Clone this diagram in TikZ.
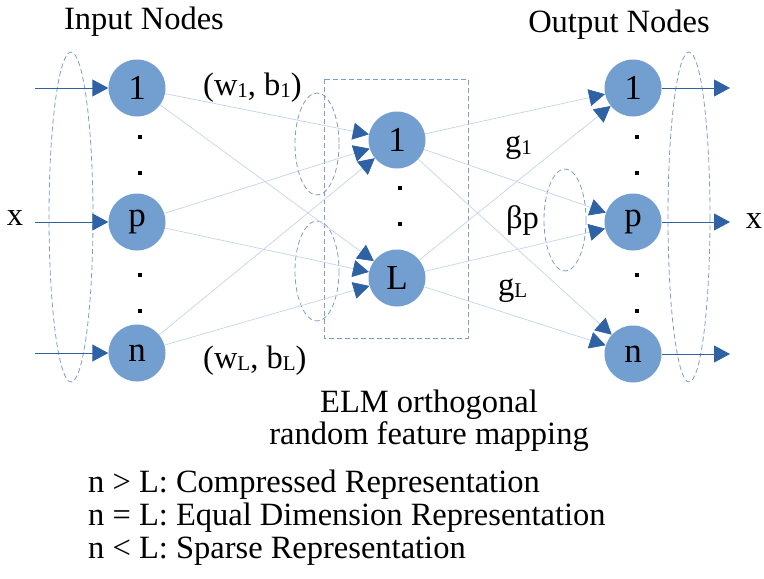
\documentclass[tikz,border=0pt]{standalone}
\usepackage{fontspec}
\setmainfont{Liberation Serif}
\usetikzlibrary{arrows.meta}
\definecolor{nodefill}{RGB}{114,159,207}
\definecolor{tipblue}{RGB}{46,98,165}
\definecolor{wireblue}{RGB}{196,212,236}
\definecolor{dashblue}{RGB}{126,156,204}
% small index set just below the baseline
\newcommand\idx[1]{\raisebox{-2.5pt}{\fontsize{21}{21}\selectfont #1}}

\begin{document}
\begin{tikzpicture}[x=1pt,y=-1pt,
  neuron/.style={circle,fill=nodefill,minimum size=57pt,inner sep=0pt,
    font=\fontsize{35}{35}\selectfont},
  dotsq/.style={fill=black,minimum size=4pt,inner sep=0pt},
  wire/.style={draw=wireblue,line width=0.7pt,
    -{Triangle[length=16pt,width=17pt,color=tipblue,fill=tipblue]}},
  ioarrow/.style={draw=tipblue,line width=1pt,-{Triangle[length=16pt,width=17pt]}},
  grouping/.style={draw=dashblue,dash pattern=on 5pt off 3pt,line width=0.8pt},
  lbl/.style={font=\fontsize{32.5}{33}\selectfont,inner sep=0pt}
]
\useasboundingbox (0,0) rectangle (764,579);

% dashed groupings
\draw[grouping] (71,217) ellipse [x radius=22, y radius=165];
\draw[grouping] (689,217) ellipse [x radius=21, y radius=165];
\draw[grouping] (317,144) ellipse [x radius=22, y radius=51];
\draw[grouping] (317,271) ellipse [x radius=22, y radius=50];
\draw[grouping] (565,220) ellipse [x radius=21, y radius=51];
\draw[grouping] (324,79) rectangle (468,338);

% neurons
\node[neuron] (in1) at (137,88) {1};
\node[neuron] (inp) at (137,222) {p};
\node[neuron] (inn) at (137,353) {n};
\node[neuron] (h1) at (397,140) {1};
\node[neuron] (hL) at (397,278) {L};
\node[neuron] (out1) at (633,88) {1};
\node[neuron] (outp) at (633,222) {p};
\node[neuron] (outn) at (633,354) {n};

% ellipsis dots
\foreach \x/\y [count=\i] in {140/137,140/173,140/275,140/311,400/188,400/224,
    637/137,637/173,637/275,637/311}
  \node[dotsq] (d\i) at (\x,\y) {};

% input and output arrows
\coordinate (a1) at (35,88);
\coordinate (ap) at (35,222);
\coordinate (an) at (35,353);
\coordinate (b1) at (730,88);
\coordinate (bp) at (730,222);
\coordinate (bn) at (730,354);
\draw[ioarrow] (a1) -- (in1);
\draw[ioarrow] (ap) -- (inp);
\draw[ioarrow] (an) -- (inn);
\draw[ioarrow] (out1) -- (b1);
\draw[ioarrow] (outp) -- (bp);
\draw[ioarrow] (outn) -- (bn);

% random feature mapping
\foreach \s in {in1,inp,inn}
  \foreach \t in {h1,hL}
    \draw[wire] (\s) -- (\t);
\foreach \s in {h1,hL}
  \foreach \t in {out1,outp,outn}
    \draw[wire] (\s) -- (\t);

% labels
\node[lbl,anchor=base] (tin) at (144,29) {Input Nodes};
\node[lbl,anchor=base] (tout) at (619,32) {Output Nodes};
\node[lbl,anchor=base west] (w1) at (203,95) {(w\idx{1}, b\idx{1})};
\node[lbl,anchor=base west] (wL) at (203,368) {(w\idx{L}, b\idx{L})};
\node[lbl,anchor=base west] (g1) at (505,152) {g\idx{1}};
\node[lbl,anchor=base west] (betap) at (506,228) {βp};
\node[lbl,anchor=base west] (gL) at (498,295) {g\idx{L}};
\node[lbl,anchor=base] (xin) at (15,225) {x};
\node[lbl,anchor=base] (xout) at (754,228) {x};
\node[lbl,anchor=base] (elm1) at (429,412) {ELM orthogonal};
\node[lbl,anchor=base] (elm2) at (429,444) {random feature mapping};
\node[lbl,anchor=base west] (r1) at (88,492) {n > L: Compressed Representation};
\node[lbl,anchor=base west] (r2) at (88,525) {n = L: Equal Dimension Representation};
\node[lbl,anchor=base west] (r3) at (88,558) {n < L: Sparse Representation};
\end{tikzpicture}
\end{document}
